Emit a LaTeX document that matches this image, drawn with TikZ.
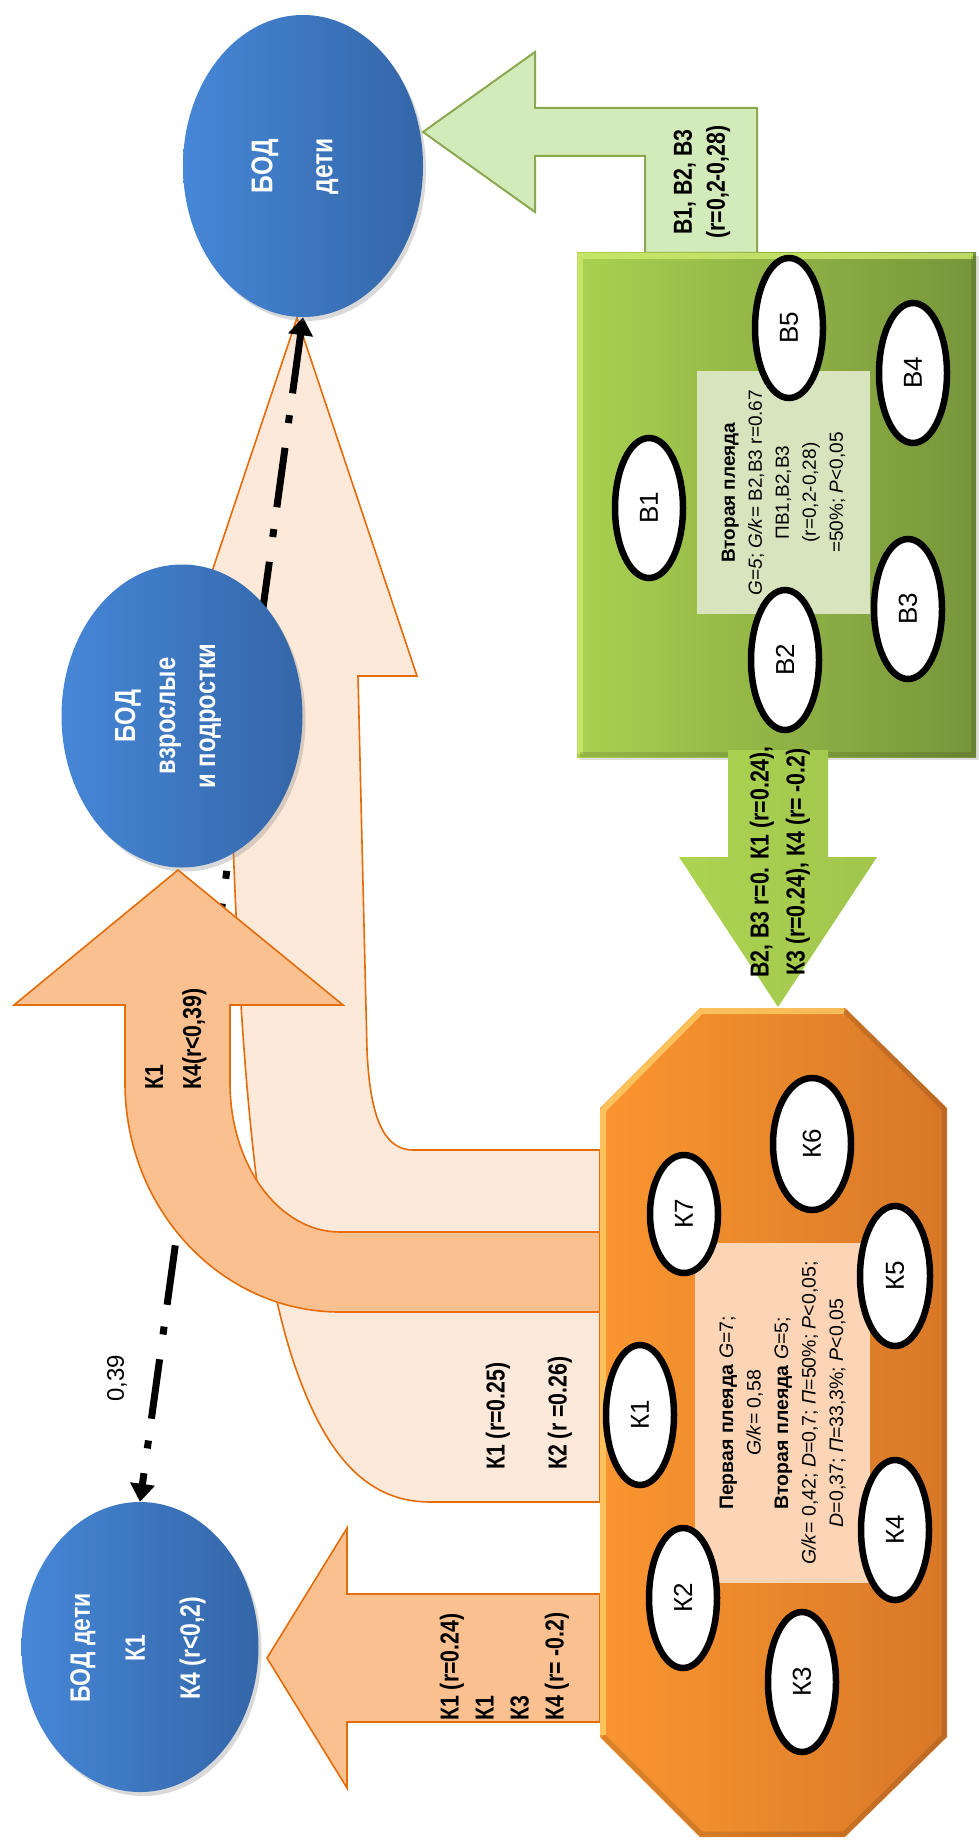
\documentclass[tikz,border=0pt]{standalone}
\usepackage{fontspec}
\setmainfont{Liberation Sans}
\newfontfamily\nar[FakeStretch=0.82]{Liberation Sans}
\usetikzlibrary{shapes.geometric,arrows.meta,shadows}
\newcommand\myfs[2]{\fontsize{#1}{#2}\selectfont}
\definecolor{peachL}{RGB}{253,233,217}
\definecolor{peachD}{RGB}{250,192,144}
\definecolor{orln}{RGB}{228,108,10}
\definecolor{blueL}{RGB}{70,135,215}
\definecolor{blueD}{RGB}{52,102,168}
\definecolor{grL}{RGB}{170,209,80}
\definecolor{grD}{RGB}{119,149,59}
\definecolor{grPale}{RGB}{211,234,187}
\definecolor{grPaleLn}{RGB}{140,168,80}
\definecolor{grBox}{RGB}{216,228,190}
\definecolor{orL}{RGB}{250,150,48}
\definecolor{orD}{RGB}{216,120,40}
\definecolor{orBox}{RGB}{251,213,181}
\definecolor{hiY}{RGB}{255,214,110}
\definecolor{hiG}{RGB}{205,235,110}
\pgfdeclarelayer{bg}\pgfdeclarelayer{mid}\pgfsetlayers{bg,mid,main}
\begin{document}
\begin{tikzpicture}[x=1pt,y=-1pt,
  lightarr/.style={fill=peachL, draw=orln, line width=1.6pt, line join=miter},
  darkarr/.style={fill=peachD, draw=orln, line width=1.6pt},
  bod/.style={ellipse, draw=none, left color=blueL, right color=blueD, inner sep=0pt,
     drop shadow={opacity=0.3, shadow xshift=3pt, shadow yshift=-4pt}},
  bodtxt/.style={rotate=90, text=white, align=center, inner sep=0pt},
  oval/.style={ellipse, draw=black, line width=6.5pt, fill=white, rotate=90, inner sep=0pt,
     minimum width=140pt, minimum height=68pt, font=\myfs{26}{30}},
  lbl/.style={rotate=90, inner sep=0pt},
  dashdot/.style={line width=7pt, dash pattern=on 60pt off 22pt on 8pt off 25pt,
     {Triangle[length=18pt,width=24pt]}-{Triangle[length=18pt,width=24pt]}}
]
\useasboundingbox (0,0) rectangle (978,1843);

% big light bent arrow
\begin{pgfonlayer}{bg}
\path[lightarr] (600,1150) -- (413,1150) .. controls (385,1150) and (370,1120) .. (367,1050)
  -- (358,676) -- (417,676) -- (297,318) -- (177,676) -- (228,676)
  .. controls (236,1000) and (250,1250) .. (300,1380)
  .. controls (330,1460) and (370,1502) .. (430,1502) -- (600,1502) -- cycle;
\end{pgfonlayer}

% blue ellipses
\node[bod, minimum width=240pt, minimum height=302pt] (bodtop) at (303,166) {};
\node[bod, minimum width=241pt, minimum height=303pt] (bodmid) at (182,716) {};
\node[bod, minimum width=237pt, minimum height=290pt] (bodleft) at (140,1647) {};
\node[bodtxt, font=\nar\bfseries\myfs{30}{60}] (tTop) at (295,166) {БОД\\дети};
\node[bodtxt, font=\nar\bfseries\myfs{29}{40}] (tMid) at (168,716) {БОД\\взрослые\\и подростки};
\node[bodtxt, font=\nar\bfseries\myfs{28}{55}] (tLeft) at (138,1648) {БОД дети\\К1\\К4 (r<0,2)};

\begin{pgfonlayer}{mid}
\draw[dashdot] (bodtop.south) -- (bodleft.north);
\end{pgfonlayer}

% darker curved arrow
\path[darkarr] (600,1232) -- (340,1232) .. controls (279,1232) and (230,1165) .. (230,1083)
  -- (230,1005) -- (343,1005) -- (178,870) -- (14,1005) -- (125,1005) -- (125,1083)
  .. controls (125,1209) and (221,1312) .. (340,1312) -- (600,1312) -- cycle;
% bottom-left arrow
\path[darkarr] (600,1594) -- (347,1594) -- (347,1528) -- (267,1658) -- (347,1788)
  -- (347,1722) -- (600,1722) -- cycle;

% green bent arrow
\path[fill=grPale, draw=grPaleLn, line width=2pt] (645,253) -- (645,156) -- (535,156)
  -- (535,212) -- (423,132) -- (535,52) -- (535,108) -- (757,108) -- (757,253) -- cycle;

% green box
\node[draw=none, left color=grL, right color=grD, minimum width=399pt, minimum height=504pt,
  inner sep=0pt, drop shadow={opacity=0.25, shadow xshift=3pt, shadow yshift=-3pt}] (gbox) at (776.5,505) {};
\draw[hiG, line width=6pt, opacity=0.8] (580,754) -- (580,256) -- (973,256);
\draw[black, line width=5pt, opacity=0.12] (973,256) -- (973,754) -- (580,754);
\node[fill=grBox, rotate=90, minimum width=243pt, minimum height=173pt, align=center,
  inner sep=0pt, font=\myfs{19}{27}] (gtxt) at (783.5,492.5)
  {\textbf{Вторая плеяда}\\\textit{G}=\textit{5}; \textit{G/k}= В2,В3 r=0.67\\ПВ1,В2,В3\\(r=0,2-0,28)\\=50\%; \textit{P}<0,05};
\node[oval] (b1) at (649,508) {В1};
\node[oval] (b5) at (789,328) {В5};
\node[oval] (b4) at (913,373) {В4};
\node[oval] (b2) at (785,660) {В2};
\node[oval] (b3) at (908,609) {В3};

% K octagon
\path[left color=orL, right color=orD] (700,1008) -- (845,1008) -- (947,1108) -- (947,1737)
  -- (845,1837) -- (700,1837) -- (600,1737) -- (600,1108) -- cycle;
\draw[hiY, line width=6pt, opacity=0.7, line join=round] (603,1735) -- (603,1110) -- (701,1011) -- (844,1011);
\draw[black, line width=5pt, opacity=0.12, line join=round] (845,1011) -- (944,1109) -- (944,1736) -- (844,1834) -- (701,1834) -- (603,1736);
\node[fill=orBox, rotate=90, minimum width=340pt, minimum height=175pt, align=center,
  inner sep=0pt, font=\myfs{19.5}{27.5}] (ktxt) at (782.5,1413)
  {\textbf{Первая плеяда} \textit{G}=7;\\\textit{G/k}= 0,58\\\textbf{Вторая плеяда} \textit{G}=5;\\\textit{G/k}= 0,42; \textit{D}=0,7; \textit{П}=50\%; \textit{P}<0,05;\\\textit{D}=0,37; \textit{П}=33,3\%; \textit{P}<0,05};
\node[oval, minimum width=118pt] (k7) at (684,1214) {К7};
\node[oval, minimum width=132pt, minimum height=78pt] (k6) at (812,1144) {К6};
\node[oval, minimum height=70pt] (k5) at (895,1276) {К5};
\node[oval] (k1) at (640,1415) {К1};
\node[oval] (k2) at (683,1598) {К2};
\node[oval] (k4) at (895,1530) {К4};
\node[oval] (k3) at (802,1682) {К3};

% green down arrow
\path[left color=grL!90!hiG, right color=grL!80!grD] (728,750) -- (728,857) -- (679,857) -- (778,1007)
  -- (877,857) -- (828,857) -- (828,750) -- cycle;

% labels
\node[lbl, align=center, font=\nar\bfseries\myfs{26}{33}] (lg) at (702,182) {В1, В2, В3\\(r=0,2-0,28)};
\node[lbl, align=center, font=\nar\bfseries\myfs{26}{36}] (ld) at (780,862) {В2, В3 r=0. К1 (r=0.24),\\К3 (r=0.24), К4 (r= -0.2)};
\node[lbl, anchor=west, font=\nar\bfseries\myfs{26}{31}] (l1) at (498,1470) {К1 (r=0.25)};
\node[lbl, anchor=west, font=\nar\bfseries\myfs{26}{31}] (l2) at (560,1470) {К2 (r =0.26)};
\node[lbl, anchor=west, align=left, font=\nar\bfseries\myfs{26}{38}] (l3) at (176,1090) {К1\\К4(r<0,39)};
\node[lbl, anchor=west, align=left, font=\nar\bfseries\myfs{26}{35}] (l4) at (504.5,1721) {К1 (r=0.24)\\К1\\К3\\К4 (r= -0.2)};
\node[lbl, font=\myfs{24}{28}] (l39) at (117,1378) {0,39};
\end{tikzpicture}
\end{document}
